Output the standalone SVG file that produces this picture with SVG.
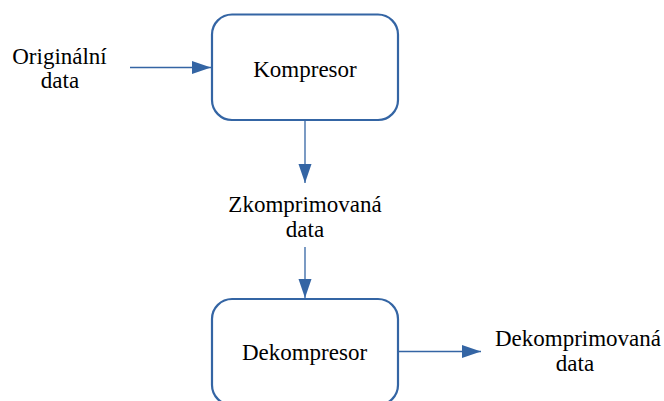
<svg xmlns="http://www.w3.org/2000/svg" width="664" height="401" viewBox="0 0 664 401">
  <style>
    .box { fill: #ffffff; stroke: #3465a4; stroke-width: 2.2; }
    .edge { fill: none; stroke: #3465a4; stroke-width: 1.3; }
    text { font-family: "Liberation Serif", "Times New Roman", serif; font-size: 23px; fill: #000000; text-anchor: middle; }
  </style>
  <defs>
    <marker id="arrow" markerUnits="userSpaceOnUse" markerWidth="20" markerHeight="14" refX="19" refY="6.5" orient="auto">
      <path d="M0,0 L19,6.5 L0,13 Z" fill="#3465a4"/>
    </marker>
  </defs>

  <rect width="664" height="401" fill="#ffffff"/>

  <g id="connectors">
    <path class="edge" d="M130,67.5 L211,67.5" marker-end="url(#arrow)"/>
    <path class="edge" d="M305,121 L305,183" marker-end="url(#arrow)"/>
    <path class="edge" d="M305,247 L305,298" marker-end="url(#arrow)"/>
    <path class="edge" d="M399,351.5 L481,351.5" marker-end="url(#arrow)"/>
  </g>

  <g id="input">
    <text x="59.5" y="64">Originální</text>
    <text x="60" y="88">data</text>
  </g>

  <g id="kompresor">
    <rect class="box" x="212" y="14.5" width="186" height="105.5" rx="20" ry="20"/>
    <text x="305" y="77">Kompresor</text>
  </g>

  <g id="compressed">
    <text x="305" y="212">Zkomprimovaná</text>
    <text x="305" y="237">data</text>
  </g>

  <g id="dekompresor">
    <rect class="box" x="212" y="299" width="186" height="106" rx="20" ry="20"/>
    <text x="304.5" y="360">Dekompresor</text>
  </g>

  <g id="output">
    <text x="578" y="346">Dekomprimovaná</text>
    <text x="575" y="371">data</text>
  </g>
</svg>
